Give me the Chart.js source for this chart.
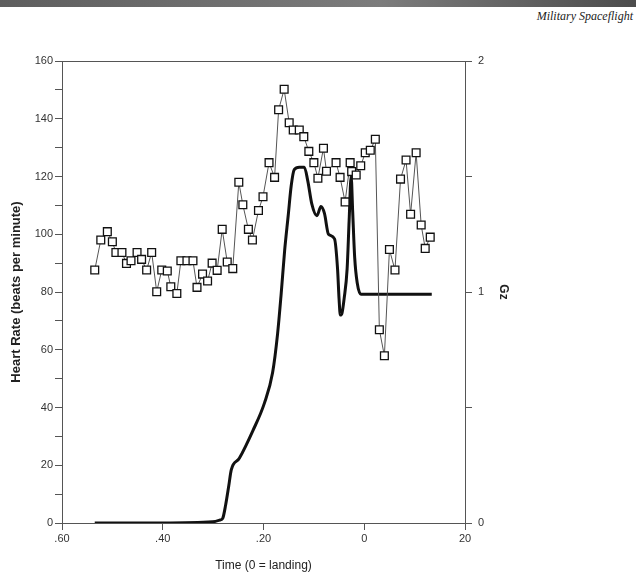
<!DOCTYPE html>
<html>
<head>
<meta charset="utf-8">
<script src="https://cdn.jsdelivr.net/npm/chart.js@4/dist/chart.umd.min.js"></script>
<style>
  body { margin: 0; background: #fff; }
  #page { position: relative; width: 636px; height: 574px; overflow: hidden; background: #fff; }
  #bar { position: absolute; left: 0; top: 0; width: 636px; height: 7px;
    background: linear-gradient(to right, #5e5e5e, #7c7c7c 60%, #4c4c4c); }
  #book { position: absolute; right: 3px; top: 9px; font: italic 12px "Liberation Serif", "DejaVu Serif", serif; color: #222; }
  #chart { position: absolute; left: 0; top: 0; }
</style>
</head>
<body>
<div id="page">
  <div id="bar"></div>
  <div id="book">Military Spaceflight</div>
  <canvas id="chart" width="636" height="574"></canvas>
</div>
<script>
// heart rate samples (time in s, 0 = landing)
const hrTime = [-53.5,-52.3,-51.0,-50.0,-49.3,-48.1,-47.2,-46.3,-45.1,-44.2,
  -43.2,-42.2,-41.2,-40.2,-39.1,-38.4,-37.2,-36.4,-35.2,-34.0,
  -33.2,-32.1,-31.1,-30.2,-29.2,-28.2,-27.2,-26.1,-24.9,-24.1,
  -23.0,-22.2,-21.0,-20.1,-18.9,-17.8,-17.0,-15.9,-14.9,-14.1,
  -12.9,-12.0,-11.0,-10.0,-9.2,-8.1,-7.5,-5.6,-4.8,-3.8,
  -2.8,-2.5,-1.6,-0.7,0.2,1.2,2.2,3.0,4.0,5.0,
  6.1,7.2,8.3,9.2,10.3,11.3,12.1,13.1];
const heartRate = [87.6,98.0,100.9,97.4,93.7,93.7,89.9,90.8,93.7,91.3,
  87.6,93.7,80.1,87.6,87.3,81.8,79.5,90.8,90.8,90.8,
  81.6,86.2,83.8,90.0,87.5,101.7,90.4,88.1,118.0,110.2,
  101.7,98.0,108.2,113.0,124.8,119.7,143.1,150.2,138.6,136.1,
  136.1,133.8,128.7,124.8,119.4,129.8,121.8,124.8,119.7,111.2,
  124.8,121.7,120.5,123.7,128.2,129.1,132.9,66.9,57.9,94.7,
  87.6,119.1,125.7,106.9,128.2,103.2,95.1,99.0];

// Gz trace
const gzTime = [-53.5,-40,-30.1,-28.6,-28.1,-27.5,-26.9,-26.4,-24.8,-22.1,
  -19.8,-18.2,-17.2,-16.5,-15.8,-15.1,-14.5,-13.9,-12.9,-11.9,
  -11.2,-10.4,-9.4,-8.6,-7.9,-7.1,-5.9,-5.3,-5.0,-4.75,
  -4.4,-4.0,-3.4,-3.0,-2.6,-2.3,-1.9,-1.4,-0.65,13.4];
const gz = [0.0,0.0,0.005,0.013,0.02,0.08,0.16,0.23,0.28,0.40,
  0.52,0.65,0.82,0.99,1.18,1.33,1.46,1.53,1.54,1.54,
  1.48,1.38,1.33,1.37,1.34,1.25,1.23,1.10,0.97,0.90,
  0.91,0.97,1.10,1.31,1.50,1.35,1.15,1.04,0.99,0.99];

const xTicks = [-60, -40, -20, 0, 20];
const xTickLabels = [".60", ".40", ".20", "0", "20"];

function pairs(xs, ys) {
  return xs.map(function (x, i) { return { x: x, y: ys[i] }; });
}

const axisColor = "#555";
const tickFont = { family: "Liberation Sans, Arial, sans-serif", size: 11 };

// top frame line
const frameTop = {
  id: "frameTop",
  afterDraw: function (chart) {
    var a = chart.chartArea;
    var ctx = chart.ctx;
    ctx.save();
    ctx.strokeStyle = axisColor;
    ctx.lineWidth = 1;
    ctx.beginPath();
    ctx.moveTo(a.left, a.top + 0.5);
    ctx.lineTo(a.right, a.top + 0.5);
    ctx.stroke();
    ctx.restore();
  }
};

new Chart(document.getElementById("chart"), {
  type: "line",
  data: {
    datasets: [
      {
        label: "Heart Rate",
        data: pairs(hrTime, heartRate),
        yAxisID: "y",
        borderColor: "#555",
        borderWidth: 1,
        pointStyle: "rect",
        pointRadius: 5.5,
        pointBackgroundColor: "#fff",
        pointBorderColor: "#111",
        pointBorderWidth: 1.3,
        tension: 0,
        order: 0
      },
      {
        label: "Gz",
        data: pairs(gzTime, gz),
        yAxisID: "y2",
        borderColor: "#111",
        borderWidth: 3,
        pointRadius: 0,
        cubicInterpolationMode: "monotone",
        order: 1
      }
    ]
  },
  options: {
    responsive: false,
    animation: false,
    layout: { padding: { left: 0, top: 61, right: 121, bottom: 0 } },
    plugins: { legend: { display: false }, tooltip: { enabled: false } },
    scales: {
      x: {
        type: "linear",
        min: -60,
        max: 20,
        afterBuildTicks: function (scale) {
          scale.ticks = xTicks.map(function (v) { return { value: v }; });
        },
        afterFit: function (scale) { scale.height = 51; },
        border: { display: true, color: axisColor, width: 1 },
        grid: { drawOnChartArea: false, drawTicks: true, tickLength: 7, color: axisColor },
        ticks: {
          color: "#333",
          font: tickFont,
          padding: 2,
          maxRotation: 0,
          callback: function (v) {
            var i = xTicks.indexOf(v);
            return i >= 0 ? xTickLabels[i] : "";
          }
        },
        title: {
          display: true,
          text: "Time (0 = landing)",
          color: "#222",
          font: { family: "Liberation Sans, Arial, sans-serif", size: 12 },
          padding: { top: 2, bottom: 1 }
        }
      },
      y: {
        position: "left",
        min: 0,
        max: 160,
        afterFit: function (scale) { scale.width = 62; },
        border: { display: true, color: axisColor, width: 1 },
        grid: { drawOnChartArea: false, drawTicks: true, tickLength: 7, color: axisColor },
        ticks: {
          stepSize: 10,
          color: "#333",
          font: tickFont,
          padding: 2,
          callback: function (v) { return v % 20 === 0 ? String(v) : ""; }
        },
        title: {
          display: true,
          text: "Heart Rate (beats per minute)",
          color: "#222",
          font: { family: "Liberation Sans, Arial, sans-serif", size: 13, weight: "bold" },
          padding: { top: 9, bottom: 0 }
        }
      },
      y2: {
        position: "right",
        min: 0,
        max: 2,
        afterFit: function (scale) { scale.width = 50; },
        border: { display: true, color: axisColor, width: 1 },
        grid: { drawOnChartArea: false, drawTicks: true, tickLength: 7, color: axisColor },
        ticks: {
          stepSize: 0.5,
          color: "#333",
          font: tickFont,
          padding: 6,
          callback: function (v) { return Number.isInteger(v) ? String(v) : ""; }
        },
        title: {
          display: true,
          text: "Gz",
          color: "#222",
          font: { family: "Liberation Sans, Arial, sans-serif", size: 12, weight: "bold" },
          padding: { top: 4, bottom: 0 }
        }
      }
    }
  },
  plugins: [frameTop]
});
</script>
</body>
</html>
